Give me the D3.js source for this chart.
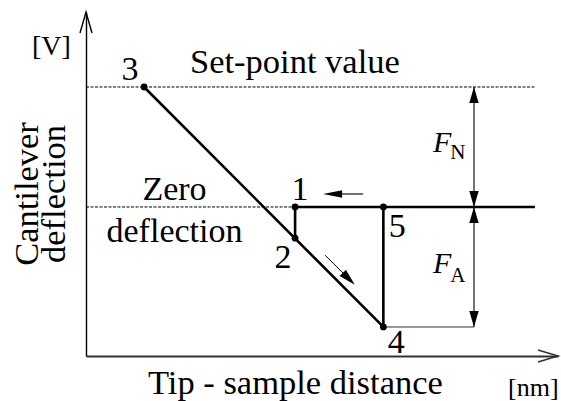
<!DOCTYPE html>
<html>
<head>
<meta charset="utf-8">
<script src="https://cdn.jsdelivr.net/npm/d3@7"></script>
<style>
  html, body { margin: 0; padding: 0; background: #fff; }
  svg { display: block; }
</style>
</head>
<body>
<svg id="chart" width="561" height="401"></svg>
<script>
// Force–distance cycle of an AFM cantilever (schematic units)
const xDomain = [0, 100];          // tip - sample distance
const yDomain = [-1.242, 1.625];   // cantilever deflection
const setPointLevel = 1;
const zeroLevel = 0;
const lineEndX = 95.1;             // right end of the reference levels
const forceArrowX = 82.2;          // position of the F_N / F_A dimension arrows

// Numbered points of the cycle
const pointNames = ["1", "2", "3", "4", "5"];
const pointX = [44.3, 44.3, 12.3, 63.0, 63.0];
const pointY = [0, -0.26, 1, -1, 0];

const SERIF = "'Liberation Serif', 'Times New Roman', serif";

const svg = d3.select("#chart");
const x = d3.scaleLinear().domain(xDomain).range([86, 558]);
const y = d3.scaleLinear().domain(yDomain).range([356, 12]);

const P = pointNames.map((n, i) => ({ name: n, x: pointX[i], y: pointY[i] }));
const byName = Object.fromEntries(P.map(p => [p.name, p]));

// Axes (domain lines only, with open arrowheads)
const gx = svg.append("g").attr("transform", `translate(0,${y(yDomain[0])})`)
  .call(d3.axisBottom(x).ticks(0).tickSizeOuter(0));
gx.select(".domain").attr("stroke", "#333").attr("stroke-width", 1.8);
const gy = svg.append("g").attr("transform", `translate(${x(xDomain[0])},0)`)
  .call(d3.axisLeft(y).ticks(0).tickSizeOuter(0));
gy.select(".domain").attr("stroke", "#000").attr("stroke-width", 1.4);

const x0 = x(xDomain[0]), x1 = x(xDomain[1]);
const y0 = y(yDomain[0]), y1 = y(yDomain[1]);
svg.append("path")
  .attr("d", `M${x0 - 6},${y1 + 21}L${x0},${y1}L${x0 + 6},${y1 + 21}`)
  .attr("fill", "none").attr("stroke", "#000").attr("stroke-width", 1.4);
svg.append("path")
  .attr("d", `M${x1 - 20},${y0 - 6}L${x1},${y0}L${x1 - 20},${y0 + 6}`)
  .attr("fill", "none").attr("stroke", "#333").attr("stroke-width", 1.6);

// Reference levels
const line = d3.line().x(d => x(d[0])).y(d => y(d[1]));
svg.append("path")
  .attr("d", line([[xDomain[0], setPointLevel], [lineEndX, setPointLevel]]))
  .attr("fill", "none").attr("stroke", "#000").attr("stroke-width", 1)
  .attr("stroke-dasharray", "3,1.5");
svg.append("path")
  .attr("d", line([[xDomain[0], zeroLevel], [byName["1"].x, zeroLevel]]))
  .attr("fill", "none").attr("stroke", "#000").attr("stroke-width", 1)
  .attr("stroke-dasharray", "3,1.5");

// Thin level at the pull-off minimum
svg.append("path")
  .attr("d", line([[byName["4"].x, byName["4"].y], [forceArrowX, byName["4"].y]]))
  .attr("fill", "none").attr("stroke", "#777").attr("stroke-width", 1.6);

// The cycle itself
const cycle = [
  [[byName["3"].x, byName["3"].y], [byName["4"].x, byName["4"].y], [byName["5"].x, byName["5"].y]],
  [[byName["2"].x, byName["2"].y], [byName["1"].x, byName["1"].y], [lineEndX, zeroLevel]]
];
svg.selectAll("path.cycle").data(cycle).join("path")
  .attr("class", "cycle")
  .attr("d", line)
  .attr("fill", "none").attr("stroke", "#000").attr("stroke-width", 2.6)
  .attr("stroke-linejoin", "miter");

svg.selectAll("circle.pt").data(P).join("circle")
  .attr("class", "pt")
  .attr("cx", d => x(d.x)).attr("cy", d => y(d.y)).attr("r", 3.4)
  .attr("fill", "#000");

// Filled arrowhead helper: tip at (tx,ty), pointing along angle a
function arrowHead(tx, ty, a, len, half) {
  const bx = tx - len * Math.cos(a), by = ty - len * Math.sin(a);
  const nx = -Math.sin(a), ny = Math.cos(a);
  svg.append("path")
    .attr("d", `M${tx},${ty}L${bx + nx * half},${by + ny * half}L${bx - nx * half},${by - ny * half}Z`)
    .attr("fill", "#000");
}

// F_N and F_A dimension arrows
const fx = x(forceArrowX);
svg.append("line")
  .attr("x1", fx).attr("x2", fx)
  .attr("y1", y(setPointLevel)).attr("y2", y(byName["4"].y))
  .attr("stroke", "#000").attr("stroke-width", 1.1);
arrowHead(fx, y(setPointLevel), -Math.PI / 2, 16, 4.7);
arrowHead(fx, y(zeroLevel), Math.PI / 2, 16, 4.7);
arrowHead(fx, y(zeroLevel), -Math.PI / 2, 16, 4.7);
arrowHead(fx, y(byName["4"].y), Math.PI / 2, 16, 4.7);

// Direction arrows: retract along zero level, approach along the slope
const p1 = byName["1"];
const hx = x(p1.x) + 28, hy = y(zeroLevel) - 13;
svg.append("line").attr("x1", hx + 12).attr("x2", hx + 40).attr("y1", hy).attr("y2", hy)
  .attr("stroke", "#000").attr("stroke-width", 1.1);
arrowHead(hx, hy, Math.PI, 19, 3.8);

const p2 = byName["2"];
const dx0 = x(p2.x) + 30, dy0 = y(p2.y) + 17;
const dLen = 42;
svg.append("line")
  .attr("x1", dx0).attr("y1", dy0)
  .attr("x2", dx0 + dLen * Math.SQRT1_2 - 10).attr("y2", dy0 + dLen * Math.SQRT1_2 - 10)
  .attr("stroke", "#000").attr("stroke-width", 1);
arrowHead(dx0 + dLen * Math.SQRT1_2, dy0 + dLen * Math.SQRT1_2, Math.PI / 4, 17, 4.5);

// Text helper with the serif face set on the element itself
function label(xp, yp, size, str, anchor) {
  return svg.append("text")
    .attr("x", xp).attr("y", yp)
    .attr("font-family", SERIF)
    .attr("font-size", size)
    .attr("fill", "#000")
    .attr("text-anchor", anchor || "start")
    .text(str);
}

// Point numbers
const labelOffsets = { "1": [5, -7], "2": [-12, 30], "3": [-14, -7], "4": [13, 26], "5": [14, 30] };
P.forEach(d => label(x(d.x) + labelOffsets[d.name][0], y(d.y) + labelOffsets[d.name][1], 34, d.name, "middle"));

// Text labels
label(190, 73, 34.5, "Set-point value");
label(174.5, 200, 34, "Zero", "middle");
label(174.5, 242, 34, "deflection", "middle");
label(148, 394, 34.5, "Tip - sample distance");
label(508, 395.5, 26, "[nm]");
label(32, 55, 28, "[V]");

const yl = svg.append("text").attr("transform", "translate(38,194) rotate(-90)")
  .attr("font-family", SERIF).attr("fill", "#000")
  .attr("text-anchor", "middle").attr("font-size", 34.5);
yl.append("tspan").attr("x", 0).attr("y", 0).text("Cantilever");
yl.append("tspan").attr("x", 0).attr("y", 27).text("deflection");

function forceLabel(ty, sub, subDy) {
  const t = svg.append("text").attr("x", 433).attr("y", ty)
    .attr("font-family", SERIF).attr("fill", "#000").attr("font-size", 30);
  t.append("tspan").attr("font-style", "italic").text("F");
  t.append("tspan").attr("font-size", 21).attr("dx", -1).attr("dy", subDy).text(sub);
}
forceLabel(152, "N", 7);
forceLabel(273, "A", 9);
</script>
</body>
</html>
